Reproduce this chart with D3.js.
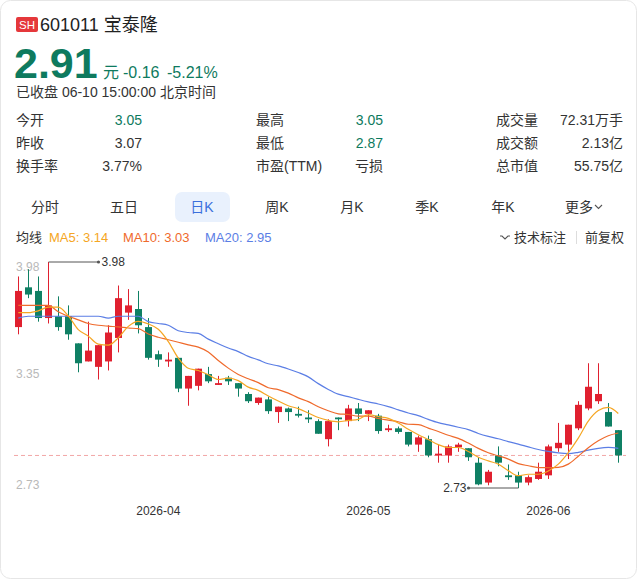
<!DOCTYPE html>
<html><head><meta charset="utf-8">
<script src="https://cdn.jsdelivr.net/npm/d3@7/dist/d3.min.js"></script>
<style>
html,body{margin:0;padding:0;background:#fff;}
svg{display:block;font-family:"Liberation Sans","Noto Sans CJK SC",Arial,sans-serif;}
</style></head>
<body><svg id="c" width="638" height="580"></svg>
<script>
const dates = ["03-12","03-13","03-16","03-17","03-18","03-19","03-20","03-23","03-24","03-25","03-26","03-27","03-30","03-31",
"04-01","04-02","04-03","04-07","04-08","04-09","04-10","04-13","04-14","04-15","04-16","04-17","04-20","04-21","04-22","04-23","04-24","04-27","04-28","04-29","04-30",
"05-06","05-07","05-08","05-11","05-12","05-13","05-14","05-15","05-18","05-19","05-20","05-21","05-22","05-25","05-26","05-27","05-28","05-29",
"06-01","06-02","06-03","06-04","06-05","06-08","06-09","06-10"];
const opens  = [3.62,3.84,3.82,3.67,3.68,3.68,3.53,3.43,3.40,3.43,3.56,3.70,3.72,3.62,3.47,3.43,3.45,3.28,3.295,3.36,3.30,3.34,3.31,3.25,3.20,3.22,3.15,3.17,3.14,3.12,3.10,3.00,3.12,3.10,3.17,3.14,3.13,3.05,3.06,3.04,2.97,3.00,2.91,2.91,2.955,2.95,2.87,2.76,2.91,2.80,2.80,2.76,2.78,2.80,2.95,2.97,3.06,3.17,3.21,3.15,3.05];
const highs  = [3.90,3.94,3.90,3.98,3.79,3.74,3.53,3.65,3.52,3.63,3.85,3.83,3.82,3.67,3.49,3.48,3.45,3.35,3.39,3.40,3.35,3.35,3.31,3.26,3.23,3.235,3.18,3.175,3.18,3.16,3.11,3.11,3.12,3.19,3.20,3.16,3.14,3.08,3.07,3.04,3.02,3.02,2.97,2.97,2.98,2.95,2.90,2.83,2.96,2.86,2.82,2.80,2.87,2.97,3.09,3.08,3.21,3.42,3.42,3.20,3.05];
const lows   = [3.58,3.78,3.65,3.64,3.60,3.55,3.37,3.43,3.33,3.38,3.48,3.66,3.585,3.44,3.40,3.40,3.26,3.185,3.27,3.31,3.30,3.30,3.235,3.20,3.19,3.14,3.09,3.10,3.12,3.09,3.03,2.96,3.05,3.07,3.10,3.10,3.03,3.04,3.03,2.96,2.93,2.90,2.87,2.87,2.93,2.88,2.745,2.745,2.85,2.775,2.73,2.745,2.775,2.78,2.93,2.89,3.05,3.16,3.195,3.07,2.87];
const closes = [3.82,3.80,3.67,3.74,3.62,3.58,3.42,3.49,3.52,3.59,3.78,3.74,3.63,3.45,3.44,3.44,3.28,3.35,3.39,3.32,3.31,3.32,3.28,3.21,3.23,3.155,3.18,3.15,3.13,3.11,3.03,3.10,3.11,3.17,3.14,3.16,3.045,3.06,3.04,2.97,3.01,2.91,2.92,2.96,2.97,2.90,2.75,2.82,2.87,2.79,2.76,2.79,2.82,2.96,2.98,3.08,3.19,3.29,3.25,3.07,2.91];
// moving-average values for the first days (their windows start before the visible range)
const ma5Head  = [3.70,3.70,3.71,3.73];
const ma10Head = [3.74,3.74,3.74,3.74,3.705,3.68,3.66,3.64,3.63];
const ma20Head = [3.67,3.68,3.68,3.68,3.68,3.68,3.68,3.68,3.68,3.67,3.68,3.68,3.68,3.65,3.64,3.63,3.60,3.59,3.585];
const yTicks = [3.98, 3.35, 2.73];
const monthTicks = ["04-01","05-06","06-01"];
const monthLabels = ["2026-04","2026-05","2026-06"];

const RED = "#e0202f", GREEN = "#0f8064", TEAL = "#0e7a5e";
const C5 = "#f5a623", C10 = "#ef6a2c", C20 = "#5b7ee5";

const svg = d3.select("#c");
// card
svg.append("rect").attr("x",0.5).attr("y",0.5).attr("width",636).attr("height",578).attr("rx",10)
  .attr("fill","#fff").attr("stroke","#e6e6e6");

// header
svg.append("rect").attr("x",16).attr("y",17).attr("width",22).attr("height",15).attr("rx",2).attr("fill","#e5383b");
svg.append("text").attr("x",27).attr("y",28.5).attr("text-anchor","middle").attr("font-size",11.5).attr("fill","#fff").text("SH");
svg.append("text").attr("x",40).attr("y",31).attr("font-size",18).attr("fill","#222").text("601011 宝泰隆");
svg.append("text").attr("x",14).attr("y",78).attr("font-size",43).attr("font-weight","bold").attr("fill",TEAL).text("2.91");
svg.append("text").attr("x",103).attr("y",78).attr("font-size",16).attr("fill",TEAL).text("元");
svg.append("text").attr("x",123).attr("y",78).attr("font-size",16).attr("fill",TEAL).text("-0.16");
svg.append("text").attr("x",167).attr("y",78).attr("font-size",16).attr("fill",TEAL).text("-5.21%");
svg.append("text").attr("x",16).attr("y",97).attr("font-size",14).attr("fill","#333").text("已收盘 06-10 15:00:00 北京时间");

// stats
const statLabels = [["今开","昨收","换手率"],["最高","最低","市盈(TTM)"],["成交量","成交额","总市值"]];
const statValues = [["3.05","3.07","3.77%"],["3.05","2.87","亏损"],["72.31万手","2.13亿","55.75亿"]];
const statTeal = [[true,false,false],[true,true,false],[false,false,false]];
const colLabelX = [16,256,496], colValX = [142,383,623], rowY = [125,148,171];
statLabels.forEach((col,ci)=>col.forEach((t,ri)=>{
  svg.append("text").attr("x",colLabelX[ci]).attr("y",rowY[ri]).attr("font-size",14).attr("fill","#333").text(t);
  svg.append("text").attr("x",colValX[ci]).attr("y",rowY[ri]).attr("font-size",14).attr("text-anchor","end")
    .attr("fill",statTeal[ci][ri]?TEAL:"#333").text(statValues[ci][ri]);
}));

// tabs
const tabs = ["分时","五日","日K","周K","月K","季K","年K","更多"];
const tabX = [45,124,202,277,352,427,503,579];
svg.append("rect").attr("x",175).attr("y",192).attr("width",55).attr("height",30).attr("rx",7).attr("fill","#e9f1fd");
tabs.forEach((t,i)=>{
  svg.append("text").attr("x",tabX[i]).attr("y",212).attr("font-size",14).attr("text-anchor","middle")
    .attr("fill", i===2 ? "#3b6fdc" : "#333").text(t);
});
svg.append("path").attr("d","M595,205 l3.5,3.5 l3.5,-3.5").attr("fill","none").attr("stroke","#555").attr("stroke-width",1.1);

// legend
const lastMA5 = d3.mean(closes.slice(-5)), lastMA10 = d3.mean(closes.slice(-10)), lastMA20 = d3.mean(closes.slice(-20));
svg.append("text").attr("x",16).attr("y",242).attr("font-size",13).attr("fill","#333").text("均线");
svg.append("text").attr("x",49).attr("y",242).attr("font-size",13).attr("fill",C5).text("MA5: "+lastMA5.toFixed(2));
svg.append("text").attr("x",123).attr("y",242).attr("font-size",13).attr("fill",C10).text("MA10: "+lastMA10.toFixed(2));
svg.append("text").attr("x",205).attr("y",242).attr("font-size",13).attr("fill",C20).text("MA20: "+lastMA20.toFixed(2));
svg.append("path").attr("d","M500,236 l2,0 l3,3 l3,-3 l2,0").attr("fill","none").attr("stroke","#555").attr("stroke-width",1.1);
svg.append("text").attr("x",514).attr("y",242).attr("font-size",13).attr("fill","#333").text("技术标注");
svg.append("line").attr("x1",576.5).attr("x2",576.5).attr("y1",231).attr("y2",244).attr("stroke","#ddd");
svg.append("text").attr("x",585).attr("y",242).attr("font-size",13).attr("fill","#333").text("前复权");

// scales
const x = d3.scaleBand().domain(dates).range([13.3,623.3]).paddingInner(0.3).paddingOuter(0.15);
const cx = d => x(d) + x.bandwidth()/2;
const y = d3.scaleLinear().domain([d3.min(lows), d3.max(highs)]).range([488,262]);

// y labels
const yOff = [5,-2,-3];
yTicks.forEach((v,i)=>{
  svg.append("text").attr("x",16).attr("y",y(v)+yOff[i]).attr("dy","0.35em").attr("font-size",12).attr("fill","#b9b9b9").text(v.toFixed(2));
});

// current price dashed line
svg.append("line").attr("x1",14).attr("x2",626).attr("y1",y(closes[closes.length-1])).attr("y2",y(closes[closes.length-1]))
  .attr("stroke","#f2a7a7").attr("stroke-dasharray","4,3").attr("stroke-width",1);

// candles
const data = dates.map((d,i)=>({d, o:opens[i], h:highs[i], l:lows[i], c:closes[i]}));
const g = svg.append("g");
g.selectAll("line.w").data(data).join("line").attr("class","w")
  .attr("x1",d=>Math.round(cx(d.d))+0.5).attr("x2",d=>Math.round(cx(d.d))+0.5)
  .attr("y1",d=>y(d.h)).attr("y2",d=>y(d.l))
  .attr("stroke",d=>d.c>=d.o?RED:GREEN).attr("stroke-width",1);
g.selectAll("rect.b").data(data).join("rect").attr("class","b")
  .attr("x",d=>Math.round(cx(d.d))+0.5-3.5).attr("width",7)
  .attr("y",d=>y(Math.max(d.o,d.c)))
  .attr("height",d=>Math.max(1.2, Math.abs(y(d.o)-y(d.c))))
  .attr("fill",d=>d.c>=d.o?RED:GREEN);

// moving averages
function ma(n, head){
  return closes.map((c,i)=> i < n-1 ? head[i] : d3.mean(closes.slice(i-n+1,i+1)));
}
const line = d3.line().x((v,i)=>cx(dates[i])).y(v=>y(v)).curve(d3.curveMonotoneX);
[[ma(20,ma20Head),C20],[ma(10,ma10Head),C10],[ma(5,ma5Head),C5]].forEach(([vals,col])=>{
  svg.append("path").attr("d",line(vals)).attr("fill","none").attr("stroke",col).attr("stroke-width",1.2);
});

// high / low markers
const hiI = d3.maxIndex(highs), loI = d3.minIndex(lows);
const hx = Math.round(cx(dates[hiI]))+0.5, hy = y(highs[hiI]);
svg.append("line").attr("x1",hx).attr("x2",hx+50).attr("y1",hy).attr("y2",hy).attr("stroke","#555");
svg.append("circle").attr("cx",hx+50).attr("cy",hy).attr("r",1.6).attr("fill","#555");
svg.append("text").attr("x",hx+53).attr("y",hy).attr("dy","0.35em").attr("font-size",12).attr("fill","#333").text(highs[hiI].toFixed(2));
const lx = Math.round(cx(dates[loI]))+0.5, ly = y(lows[loI]);
svg.append("line").attr("x1",lx).attr("x2",lx-50).attr("y1",ly).attr("y2",ly).attr("stroke","#555");
svg.append("circle").attr("cx",lx-50).attr("cy",ly).attr("r",1.6).attr("fill","#555");
svg.append("text").attr("x",lx-52).attr("y",ly).attr("dy","0.35em").attr("font-size",12).attr("text-anchor","end").attr("fill","#333").text(lows[loI].toFixed(2));

// x axis labels
monthTicks.forEach((d,i)=>{
  svg.append("text").attr("x",cx(d)).attr("y",511).attr("dy","0.35em").attr("text-anchor","middle")
    .attr("font-size",12).attr("fill","#333").text(monthLabels[i]);
});
</script></body></html>
